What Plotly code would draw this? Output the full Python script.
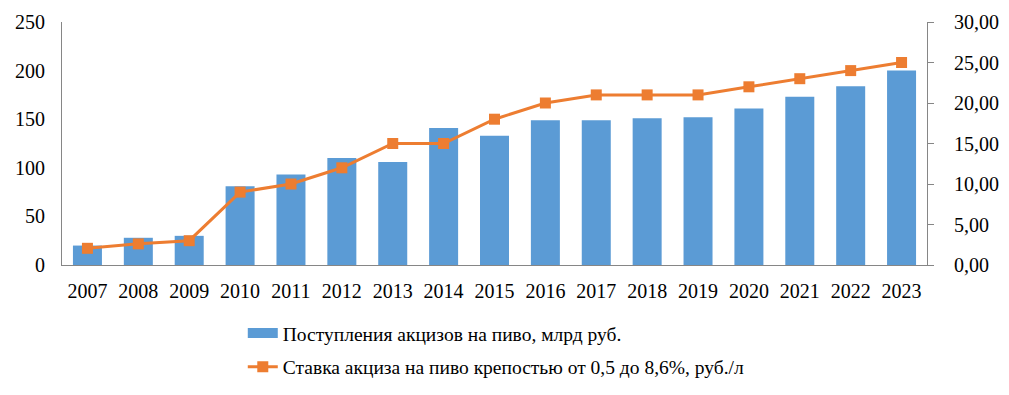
import plotly.graph_objects as go

years = ["2007", "2008", "2009", "2010", "2011", "2012", "2013", "2014", "2015",
         "2016", "2017", "2018", "2019", "2020", "2021", "2022", "2023"]
revenue = [20, 28, 30, 81, 93, 110, 106, 141, 133, 149, 149, 151, 152, 161, 173, 184, 200]
rate = [2.06, 2.61, 3.0, 9, 10, 12, 15, 15, 18, 20, 21, 21, 21, 22, 23, 24, 25]

left_ticks = [0, 50, 100, 150, 200, 250]
right_ticks = [0, 5, 10, 15, 20, 25, 30]

bar_name = "Поступления акцизов на пиво, млрд руб."
line_name = "Ставка акциза на пиво крепостью от 0,5 до 8,6%, руб./л"

font = "Liberation Serif"
blue = "#5B9BD5"
orange = "#ED7D31"
axis_grey = "#868686"

fig = go.Figure()
fig.add_trace(go.Bar(
    x=years, y=revenue, name=bar_name, showlegend=False,
    marker=dict(color=blue, line=dict(width=0)), yaxis="y"))
# legend-only entry drawn as a wide rectangle like the original
fig.add_trace(go.Scatter(
    x=[None], y=[None], name=bar_name, mode="lines",
    line=dict(color=blue, width=10), legendgroup="a", hoverinfo="skip"))
fig.add_trace(go.Scatter(
    x=years, y=rate, name=line_name, legendgroup="b",
    mode="lines+markers", line=dict(color=orange, width=3),
    marker=dict(symbol="square", size=11, color=orange), yaxis="y2"))

fig.update_layout(
    width=993, height=379,
    margin=dict(l=54, r=74, t=14, b=122, autoexpand=False),
    paper_bgcolor="white", plot_bgcolor="white",
    font=dict(family=font, size=20, color="#000000"),
    separators=", ",
    bargap=0.43,
    showlegend=True,
    legend=dict(x=0.209, y=-0.201, xanchor="left", yanchor="top",
                orientation="v", font=dict(family=font, size=19.5),
                traceorder="grouped", tracegroupgap=5.5,
                bgcolor="rgba(0,0,0,0)"),
    xaxis=dict(range=[-0.5, 16.5], showline=True, linecolor=axis_grey, linewidth=1,
               ticks="", tickfont=dict(family=font, size=20), showgrid=False,
               automargin=False, ticklabelstandoff=8),
    yaxis=dict(range=[0, 250], tickvals=left_ticks, showline=True,
               linecolor=axis_grey, linewidth=1, showgrid=False, ticks="",
               zeroline=False, tickfont=dict(family=font, size=20), automargin=False,
               ticklabelstandoff=12),
    yaxis2=dict(range=[0, 30], tickvals=right_ticks, tickformat=".2f",
                overlaying="y", side="right", showline=True, linecolor=axis_grey,
                linewidth=1, ticks="outside", ticklen=6, tickcolor=axis_grey,
                showgrid=False, zeroline=False, tickfont=dict(family=font, size=20),
                automargin=False, ticklabelstandoff=16),
)

fig.write_html("out.html")
